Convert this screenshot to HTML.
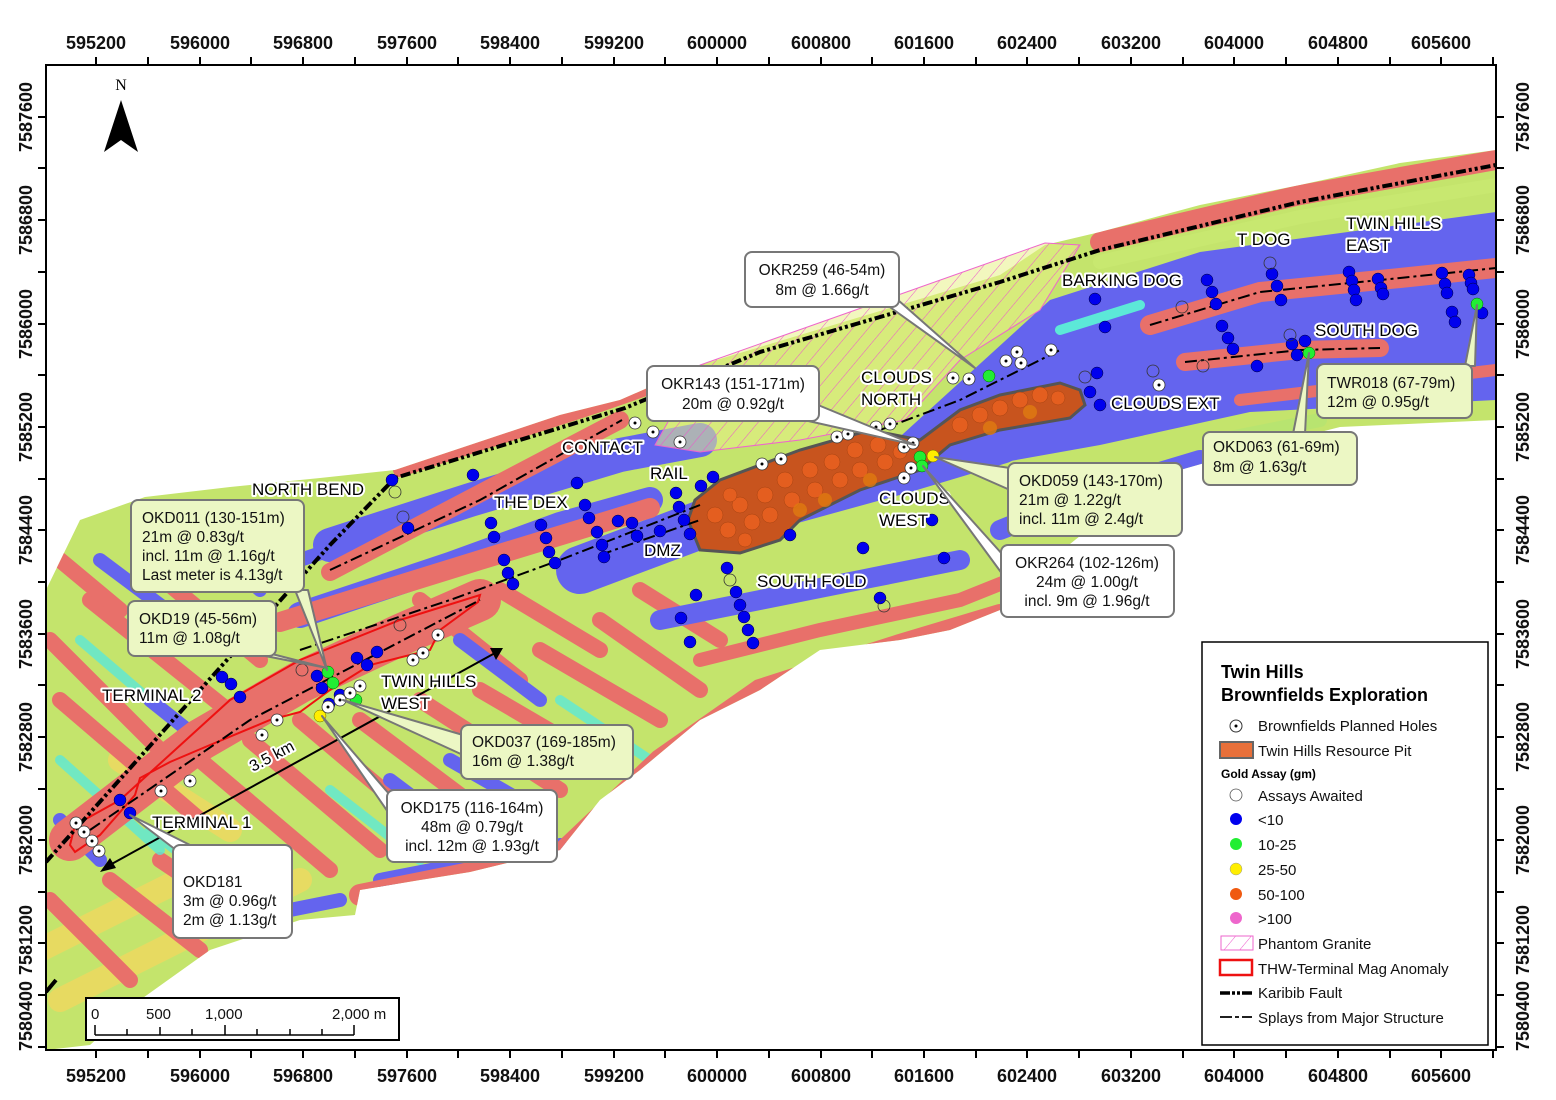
<!DOCTYPE html>
<html><head><meta charset="utf-8"><style>
html,body{margin:0;padding:0;background:#fff;}
svg{display:block;font-family:"Liberation Sans",Arial,sans-serif;}
.ax{font-weight:bold;font-size:18px;fill:#111;}
.lb{font-size:17px;fill:#000;stroke:#fff;stroke-width:4px;paint-order:stroke;stroke-linejoin:round;}
.ct{font-size:15.5px;fill:#111;}
.lg{font-size:15px;fill:#111;}
</style></head><body>
<svg width="1556" height="1100" viewBox="0 0 1556 1100" xmlns="http://www.w3.org/2000/svg">
<defs>
<clipPath id="dc"><polygon points="46,590 80,520 145,497 230,487 320,478 395,470 470,445 560,415 620,400 700,365 800,335 900,305 1000,275 1045,245 1100,232 1200,205 1300,185 1400,163 1496,150 1496,420 1340,427 1250,450 1180,470 1100,520 1050,560 1000,610 950,630 900,640 820,650 760,690 700,720 640,770 600,800 560,850 470,872 420,880 360,890 355,915 300,920 210,950 140,1000 90,1045 46,1050"/></clipPath>
<pattern id="hat" width="12" height="12" patternUnits="userSpaceOnUse" patternTransform="rotate(40)"><rect width="12" height="12" fill="none"/><line x1="0" y1="0" x2="0" y2="12" stroke="#ee55cc" stroke-width="1"/></pattern>
<clipPath id="mc"><rect x="46" y="65" width="1450" height="985"/></clipPath>
</defs>

<g clip-path="url(#dc)">
<rect x="40" y="100" width="1460" height="960" fill="#c4e46c"/>
<g fill="none" stroke-linecap="round">
<g stroke="#f0d860" stroke-width="24" opacity=".8">
<path d="M40,950 L200,870"/><path d="M60,1000 L300,880"/><path d="M120,760 L230,830"/>
</g>
<g stroke="#e8706a" stroke-width="16">
<path d="M50,640 L170,760"/><path d="M60,700 L200,820"/><path d="M90,600 L240,720"/><path d="M140,560 L260,660"/><path d="M200,760 L330,870"/><path d="M250,740 L380,850"/><path d="M300,720 L430,830"/><path d="M360,720 L480,810"/><path d="M420,700 L560,790"/><path d="M480,690 L600,760"/><path d="M540,650 L660,720"/><path d="M600,620 L700,690"/><path d="M50,900 L130,980"/><path d="M110,880 L200,950"/>
<path d="M160,860 L250,920"/><path d="M60,560 L120,610"/><path d="M420,600 L520,680"/><path d="M500,590 L600,650"/><path d="M640,590 L720,640"/>
</g>
<g stroke="#5ce8d8" stroke-width="10" opacity=".8">
<path d="M60,760 L160,850"/><path d="M150,830 L240,900"/><path d="M330,790 L420,860"/><path d="M560,700 L650,760"/><path d="M80,640 L150,700"/>
</g>
<g stroke="#6464ee" stroke-width="14">
<path d="M100,560 L180,620"/><path d="M180,520 L260,590"/><path d="M60,820 L100,860"/><path d="M390,780 L470,840"/><path d="M450,760 L520,800"/><path d="M380,880 L560,845"/><path d="M240,920 L340,900"/>
<path d="M150,700 L200,740"/><path d="M460,640 L540,700"/><path d="M300,560 L360,540"/>
</g>
<path d="M330,545 L470,500 L620,455 L700,440" stroke="#6464ee" stroke-width="34"/>
<path d="M300,615 L450,565 L560,525 L650,500" stroke="#6464ee" stroke-width="26"/>
<path d="M580,570 L700,525 L900,470 L1000,440" stroke="#6464ee" stroke-width="48"/>
<path d="M330,572 L620,420" stroke="#e8706a" stroke-width="18"/>
<path d="M280,622 L480,560 L650,508" stroke="#e8706a" stroke-width="20"/>
<path d="M400,470 L600,405 L700,370" stroke="#e8706a" stroke-width="14"/>
<path d="M70,840 L200,740 L300,682 L400,635 L480,600" stroke="#e8706a" stroke-width="42"/>
<path d="M360,895 L560,855 L660,760 L760,690 L900,645 L1000,615" stroke="#e8706a" stroke-width="22"/>
<path d="M660,620 L760,600 L860,580 L960,560" stroke="#6464ee" stroke-width="20"/>
<path d="M700,660 L820,630 L960,600 L1060,560" stroke="#e8706a" stroke-width="14"/>
<path d="M1000,530 L1100,490 L1200,460" stroke="#6464ee" stroke-width="20"/>
<polygon points="1050,300 1200,252 1496,212 1496,400 1250,412 1100,445 960,470 880,455" fill="#6464ee" stroke="none"/>
<path d="M1100,242 L1300,195 L1496,160" stroke="#e8706a" stroke-width="20"/>
<path d="M1100,262 L1300,217 L1496,185" stroke="#c8e870" stroke-width="14"/>
<path d="M1150,325 L1260,292 L1400,278 L1496,268" stroke="#e8706a" stroke-width="20"/>
<path d="M1185,362 L1300,350 L1380,348" stroke="#e8706a" stroke-width="18"/>
<path d="M1240,400 L1496,370" stroke="#e8706a" stroke-width="12"/>
<path d="M1220,440 L1320,420" stroke="#b8e470" stroke-width="14"/>
<path d="M1060,330 L1140,305" stroke="#5ce8d8" stroke-width="10"/>
</g>
</g>

<polygon points="655,445 700,365 1045,243 1080,245 1040,310 960,360 905,420 800,440 700,452" fill="#e8f088" opacity=".55"/>
<polygon points="655,445 700,365 1045,243 1080,245 1040,310 960,360 905,420 800,440 700,452" fill="url(#hat)" stroke="#ee66cc" stroke-width="1"/>

<polygon points="695,500 720,480 800,450 870,430 920,440 960,410 1000,395 1060,383 1080,390 1085,405 1070,418 1000,430 950,445 920,470 860,490 800,520 780,540 740,553 700,550 688,520" fill="#c8541e" stroke="#555" stroke-width="3"/>
<g fill="#e86020" stroke="#a04010" stroke-width=".5" opacity=".9">
<circle cx="715" cy="515" r="8"/><circle cx="728" cy="530" r="8"/><circle cx="740" cy="505" r="8"/><circle cx="752" cy="522" r="8"/><circle cx="765" cy="495" r="8"/><circle cx="770" cy="515" r="8"/><circle cx="785" cy="480" r="8"/><circle cx="792" cy="500" r="8"/><circle cx="810" cy="470" r="8"/><circle cx="815" cy="490" r="8"/><circle cx="832" cy="462" r="8"/><circle cx="840" cy="480" r="8"/><circle cx="855" cy="450" r="8"/><circle cx="860" cy="470" r="8"/><circle cx="878" cy="445" r="8"/><circle cx="885" cy="462" r="8"/><circle cx="900" cy="452" r="7"/><circle cx="960" cy="425" r="8"/><circle cx="980" cy="415" r="8"/><circle cx="1000" cy="408" r="8"/><circle cx="1020" cy="400" r="8"/><circle cx="1040" cy="395" r="8"/><circle cx="1058" cy="398" r="7"/><circle cx="745" cy="540" r="7"/><circle cx="730" cy="495" r="7"/>
</g>
<g fill="#e07a10" opacity=".8"><circle cx="800" cy="510" r="7"/><circle cx="825" cy="500" r="7"/><circle cx="990" cy="428" r="7"/><circle cx="1030" cy="412" r="7"/><circle cx="870" cy="480" r="7"/></g>

<polygon points="70,845 75,825 120,800 230,700 300,660 400,620 480,595 478,602 440,630 430,650 370,665 330,690 300,712 270,720 210,745 170,762 140,778 135,795 100,835 75,852" fill="none" stroke="#ee1111" stroke-width="2"/>

<g clip-path="url(#mc)" fill="none" stroke="#000">
<polyline points="46,862 200,690 330,545 395,478 625,408 760,352 1000,282 1100,250 1300,202 1496,165" stroke-width="4" stroke-dasharray="10,3,3,3,3,3"/>
<polyline points="46,992 56,980" stroke-width="4"/>
<g stroke-width="2" stroke-dasharray="12,4,3,4">
<polyline points="330,570 480,500 622,420"/>
<polyline points="300,650 450,600 560,560 700,505"/>
<polyline points="90,830 250,720 480,600"/>
<polyline points="1150,325 1260,292 1400,278 1496,268"/>
<polyline points="1185,362 1300,350 1380,348"/>
<polyline points="880,430 960,400 1060,350"/>
<polyline points="600,555 700,520"/>
</g>
</g>
<line x1="108" y1="866" x2="495" y2="653" stroke="#000" stroke-width="2"/>
<polygon points="100,872 110,858 116,868" fill="#000"/>
<polygon points="503,648 490,648 496,660" fill="#000"/>
<text class="lb" x="253" y="772" transform="rotate(-28 253 772)" style="font-size:16px">3.5 km</text>

<g fill="#0000ee" stroke="#000033" stroke-width=".5">
<circle cx="1095" cy="299" r="6"/><circle cx="1105" cy="327" r="6"/><circle cx="1207" cy="280" r="6"/><circle cx="1212" cy="292" r="6"/><circle cx="1216" cy="304" r="6"/><circle cx="1222" cy="326" r="6"/><circle cx="1228" cy="338" r="6"/><circle cx="1233" cy="349" r="6"/><circle cx="1257" cy="366" r="6"/><circle cx="1272" cy="274" r="6"/><circle cx="1277" cy="286" r="6"/><circle cx="1281" cy="300" r="6"/><circle cx="1292" cy="344" r="6"/><circle cx="1297" cy="355" r="6"/><circle cx="1305" cy="341" r="6"/><circle cx="1349" cy="272" r="6"/><circle cx="1352" cy="281" r="6"/><circle cx="1354" cy="290" r="6"/><circle cx="1356" cy="300" r="6"/><circle cx="1378" cy="279" r="6"/><circle cx="1381" cy="288" r="6"/><circle cx="1383" cy="294" r="6"/><circle cx="1442" cy="273" r="6"/><circle cx="1445" cy="284" r="6"/><circle cx="1447" cy="293" r="6"/><circle cx="1452" cy="312" r="6"/><circle cx="1455" cy="322" r="6"/><circle cx="1469" cy="275" r="6"/><circle cx="1471" cy="283" r="6"/><circle cx="1473" cy="289" r="6"/><circle cx="1482" cy="313" r="6"/><circle cx="1097" cy="373" r="6"/><circle cx="1100" cy="405" r="6"/><circle cx="1090" cy="392" r="6"/>
<circle cx="392" cy="480" r="6"/><circle cx="408" cy="528" r="6"/><circle cx="473" cy="475" r="6"/><circle cx="491" cy="523" r="6"/><circle cx="494" cy="537" r="6"/><circle cx="504" cy="560" r="6"/><circle cx="508" cy="573" r="6"/><circle cx="513" cy="584" r="6"/><circle cx="541" cy="525" r="6"/><circle cx="546" cy="538" r="6"/><circle cx="549" cy="552" r="6"/><circle cx="555" cy="563" r="6"/><circle cx="577" cy="483" r="6"/><circle cx="585" cy="505" r="6"/><circle cx="589" cy="518" r="6"/><circle cx="597" cy="532" r="6"/><circle cx="602" cy="545" r="6"/><circle cx="604" cy="557" r="6"/><circle cx="618" cy="521" r="6"/><circle cx="632" cy="523" r="6"/><circle cx="637" cy="536" r="6"/><circle cx="660" cy="531" r="6"/><circle cx="676" cy="493" r="6"/><circle cx="679" cy="507" r="6"/><circle cx="684" cy="520" r="6"/><circle cx="690" cy="534" r="6"/><circle cx="701" cy="486" r="6"/><circle cx="713" cy="477" r="6"/><circle cx="696" cy="595" r="6"/><circle cx="681" cy="618" r="6"/><circle cx="690" cy="642" r="6"/><circle cx="727" cy="568" r="6"/><circle cx="736" cy="592" r="6"/><circle cx="740" cy="605" r="6"/><circle cx="744" cy="617" r="6"/><circle cx="748" cy="630" r="6"/><circle cx="753" cy="643" r="6"/><circle cx="790" cy="535" r="6"/><circle cx="863" cy="548" r="6"/><circle cx="880" cy="598" r="6"/><circle cx="944" cy="558" r="6"/><circle cx="932" cy="520" r="6"/>
<circle cx="222" cy="677" r="6"/><circle cx="231" cy="684" r="6"/><circle cx="240" cy="697" r="6"/><circle cx="317" cy="676" r="6"/><circle cx="322" cy="688" r="6"/><circle cx="329" cy="704" r="6"/><circle cx="340" cy="695" r="6"/><circle cx="357" cy="658" r="6"/><circle cx="367" cy="665" r="6"/><circle cx="377" cy="652" r="6"/><circle cx="130" cy="813" r="6"/><circle cx="120" cy="800" r="6"/>
</g>
<g fill="#22ee33" stroke="#006600" stroke-width=".5">
<circle cx="989" cy="376" r="6"/><circle cx="920" cy="457" r="6"/><circle cx="922" cy="466" r="6"/><circle cx="328" cy="672" r="6"/><circle cx="333" cy="683" r="6"/><circle cx="356" cy="700" r="6"/><circle cx="1309" cy="353" r="6"/><circle cx="1477" cy="304" r="6"/>
</g>
<g fill="#ffee00" stroke="#666600" stroke-width=".5"><circle cx="933" cy="456" r="6"/><circle cx="320" cy="716" r="6"/></g>
<g fill="none" stroke="#333" stroke-width=".8">
<circle cx="1270" cy="263" r="6"/><circle cx="1182" cy="307" r="6"/><circle cx="1290" cy="335" r="6"/><circle cx="1203" cy="366" r="6"/><circle cx="1085" cy="377" r="6"/><circle cx="395" cy="492" r="6"/><circle cx="403" cy="517" r="6"/><circle cx="730" cy="580" r="6"/><circle cx="884" cy="606" r="6"/><circle cx="302" cy="670" r="6"/><circle cx="400" cy="625" r="6"/><circle cx="1153" cy="371" r="6"/>
</g>
<g fill="#fff" stroke="#333" stroke-width=".8">
<circle cx="635" cy="423" r="6"/><circle cx="653" cy="432" r="6"/><circle cx="680" cy="442" r="6"/><circle cx="762" cy="464" r="6"/><circle cx="781" cy="459" r="6"/><circle cx="837" cy="437" r="6"/><circle cx="848" cy="434" r="6"/><circle cx="876" cy="427" r="6"/><circle cx="890" cy="424" r="6"/><circle cx="904" cy="447" r="6"/><circle cx="913" cy="443" r="6"/><circle cx="911" cy="468" r="6"/><circle cx="904" cy="478" r="6"/><circle cx="953" cy="378" r="6"/><circle cx="969" cy="379" r="6"/><circle cx="1006" cy="361" r="6"/><circle cx="1017" cy="352" r="6"/><circle cx="1021" cy="363" r="6"/><circle cx="1051" cy="350" r="6"/><circle cx="1159" cy="385" r="6"/><circle cx="413" cy="660" r="6"/><circle cx="423" cy="653" r="6"/><circle cx="438" cy="635" r="6"/><circle cx="360" cy="686" r="6"/><circle cx="350" cy="693" r="6"/><circle cx="340" cy="700" r="6"/><circle cx="328" cy="707" r="6"/><circle cx="277" cy="720" r="6"/><circle cx="262" cy="735" r="6"/><circle cx="190" cy="781" r="6"/><circle cx="161" cy="791" r="6"/><circle cx="76" cy="823" r="6"/><circle cx="84" cy="832" r="6"/><circle cx="92" cy="841" r="6"/><circle cx="99" cy="851" r="6"/>
</g>
<g fill="#000">
<circle cx="635" cy="423" r="1.5"/><circle cx="653" cy="432" r="1.5"/><circle cx="680" cy="442" r="1.5"/><circle cx="762" cy="464" r="1.5"/><circle cx="781" cy="459" r="1.5"/><circle cx="837" cy="437" r="1.5"/><circle cx="848" cy="434" r="1.5"/><circle cx="876" cy="427" r="1.5"/><circle cx="890" cy="424" r="1.5"/><circle cx="904" cy="447" r="1.5"/><circle cx="913" cy="443" r="1.5"/><circle cx="911" cy="468" r="1.5"/><circle cx="904" cy="478" r="1.5"/><circle cx="953" cy="378" r="1.5"/><circle cx="969" cy="379" r="1.5"/><circle cx="1006" cy="361" r="1.5"/><circle cx="1017" cy="352" r="1.5"/><circle cx="1021" cy="363" r="1.5"/><circle cx="1051" cy="350" r="1.5"/><circle cx="1159" cy="385" r="1.5"/><circle cx="413" cy="660" r="1.5"/><circle cx="423" cy="653" r="1.5"/><circle cx="438" cy="635" r="1.5"/><circle cx="360" cy="686" r="1.5"/><circle cx="350" cy="693" r="1.5"/><circle cx="340" cy="700" r="1.5"/><circle cx="328" cy="707" r="1.5"/><circle cx="277" cy="720" r="1.5"/><circle cx="262" cy="735" r="1.5"/><circle cx="190" cy="781" r="1.5"/><circle cx="161" cy="791" r="1.5"/><circle cx="76" cy="823" r="1.5"/><circle cx="84" cy="832" r="1.5"/><circle cx="92" cy="841" r="1.5"/><circle cx="99" cy="851" r="1.5"/>
</g>

<g class="lb">
<text x="252" y="495">NORTH BEND</text>
<text x="494" y="508">THE DEX</text>
<text x="562" y="453">CONTACT</text>
<text x="650" y="479">RAIL</text>
<text x="644" y="556">DMZ</text>
<text x="757" y="587">SOUTH FOLD</text>
<text x="861" y="383">CLOUDS</text><text x="861" y="405">NORTH</text>
<text x="879" y="504">CLOUDS</text><text x="879" y="526">WEST</text>
<text x="1111" y="409">CLOUDS EXT</text>
<text x="1062" y="286">BARKING DOG</text>
<text x="1237" y="245">T DOG</text>
<text x="1346" y="229">TWIN HILLS</text><text x="1346" y="251">EAST</text>
<text x="1315" y="336">SOUTH DOG</text>
<text x="102" y="701">TERMINAL 2</text>
<text x="152" y="828">TERMINAL 1</text>
<text x="381" y="687">TWIN HILLS</text><text x="381" y="709">WEST</text>
</g>

<g stroke="#777" stroke-width="2" stroke-linejoin="round">
<g fill="#fff">
<polygon points="880,300 898,300 975,368"/><rect x="745" y="252" width="154" height="55" rx="7"/>
<polygon points="795,418 818,405 915,445"/><rect x="647" y="366" width="172" height="55" rx="7"/>
<polygon points="390,795 390,815 322,716"/><rect x="387" y="790" width="170" height="72" rx="7"/>
<polygon points="176,850 196,848 130,815"/><rect x="173" y="845" width="119" height="93" rx="7"/>
<polygon points="1003,555 1003,575 923,466"/><rect x="1001" y="545" width="173" height="72" rx="7"/>
</g>
<g fill="#ecf7c4">
<polygon points="295,590 308,590 327,670"/><rect x="131" y="500" width="173" height="92" rx="7"/>
<polygon points="255,654 272,654 327,668"/><rect x="128" y="601" width="148" height="55" rx="7"/>
<polygon points="463,735 463,755 343,700"/><rect x="461" y="725" width="172" height="54" rx="7"/>
<polygon points="1010,468 1010,490 935,457"/><rect x="1008" y="463" width="174" height="73" rx="7"/>
<polygon points="1293,434 1305,434 1309,353"/><rect x="1203" y="432" width="154" height="53" rx="7"/>
<polygon points="1465,366 1475,366 1477,305"/><rect x="1317" y="364" width="155" height="54" rx="7"/>
</g>
</g>
<g class="ct">
<text x="822" y="275" text-anchor="middle">OKR259 (46-54m)</text><text x="822" y="295" text-anchor="middle">8m @ 1.66g/t</text>
<text x="733" y="389" text-anchor="middle">OKR143 (151-171m)</text><text x="733" y="409" text-anchor="middle">20m @ 0.92g/t</text>
<text x="142" y="523">OKD011 (130-151m)</text><text x="142" y="542">21m @ 0.83g/t</text><text x="142" y="561">incl. 11m @ 1.16g/t</text><text x="142" y="580">Last meter is 4.13g/t</text>
<text x="139" y="624">OKD19 (45-56m)</text><text x="139" y="643">11m @ 1.08g/t</text>
<text x="472" y="747">OKD037 (169-185m)</text><text x="472" y="766">16m @ 1.38g/t</text>
<text x="472" y="813" text-anchor="middle">OKD175 (116-164m)</text><text x="472" y="832" text-anchor="middle">48m @ 0.79g/t</text><text x="472" y="851" text-anchor="middle">incl. 12m @ 1.93g/t</text>
<text x="183" y="887">OKD181</text><text x="183" y="906">3m @ 0.96g/t</text><text x="183" y="925">2m @ 1.13g/t</text>
<text x="1019" y="486">OKD059 (143-170m)</text><text x="1019" y="505">21m @ 1.22g/t</text><text x="1019" y="524">incl. 11m @ 2.4g/t</text>
<text x="1087" y="568" text-anchor="middle">OKR264 (102-126m)</text><text x="1087" y="587" text-anchor="middle">24m @ 1.00g/t</text><text x="1087" y="606" text-anchor="middle">incl. 9m @ 1.96g/t</text>
<text x="1213" y="452">OKD063 (61-69m)</text><text x="1213" y="472">8m @ 1.63g/t</text>
<text x="1327" y="388">TWR018 (67-79m)</text><text x="1327" y="407">12m @ 0.95g/t</text>
</g>

<text x="121" y="90" text-anchor="middle" style="font-family:'Liberation Serif',serif;font-size:16px">N</text>
<polygon points="121,100 104,152 121,140 138,152" fill="#000"/>

<rect x="86" y="998" width="313" height="42" fill="#fff" stroke="#000" stroke-width="2"/>
<g style="font-size:15px" fill="#111"><text x="91" y="1019">0</text><text x="146" y="1019">500</text><text x="205" y="1019">1,000</text><text x="332" y="1019">2,000 m</text></g>
<g stroke="#000" stroke-width="1.5"><line x1="95" y1="1035" x2="354" y2="1035"/>
<line x1="95" y1="1025" x2="95" y2="1035"/><line x1="127" y1="1029" x2="127" y2="1035"/><line x1="160" y1="1027" x2="160" y2="1035"/><line x1="192" y1="1029" x2="192" y2="1035"/><line x1="225" y1="1025" x2="225" y2="1035"/><line x1="257" y1="1029" x2="257" y2="1035"/><line x1="290" y1="1029" x2="290" y2="1035"/><line x1="322" y1="1029" x2="322" y2="1035"/><line x1="354" y1="1025" x2="354" y2="1035"/></g>

<rect x="1202" y="642" width="286" height="403" fill="#fff" stroke="#000" stroke-width="1.5"/>
<text x="1221" y="678" style="font-weight:bold;font-size:18px">Twin Hills</text>
<text x="1221" y="701" style="font-weight:bold;font-size:18px">Brownfields Exploration</text>
<circle cx="1236" cy="726" r="6" fill="#fff" stroke="#333"/><circle cx="1236" cy="726" r="1.5" fill="#000"/>
<rect x="1220" y="742" width="33" height="16" fill="#e8703a" stroke="#666" stroke-width="2"/>
<text x="1221" y="778" style="font-weight:bold;font-size:12px">Gold Assay (gm)</text>
<circle cx="1236" cy="795" r="6" fill="#fff" stroke="#555" stroke-width=".8"/>
<circle cx="1236" cy="819" r="6" fill="#0000ee"/>
<circle cx="1236" cy="844" r="6" fill="#22ee33"/>
<circle cx="1236" cy="869" r="6" fill="#ffee00" stroke="#999" stroke-width=".5"/>
<circle cx="1236" cy="894" r="6" fill="#f05a10"/>
<circle cx="1236" cy="918" r="6" fill="#ee66cc"/>
<rect x="1221" y="936" width="32" height="14" fill="url(#hat)" stroke="#ee66cc"/>
<rect x="1220" y="960" width="32" height="15" fill="#fff" stroke="#ee1111" stroke-width="2.5"/>
<line x1="1220" y1="993" x2="1252" y2="993" stroke="#000" stroke-width="3.5" stroke-dasharray="10,2,3,2,3,2"/>
<line x1="1220" y1="1017" x2="1252" y2="1017" stroke="#000" stroke-width="1.8" stroke-dasharray="12,3,4,3"/>
<g class="lg">
<text x="1258" y="731">Brownfields Planned Holes</text>
<text x="1258" y="756">Twin Hills Resource Pit</text>
<text x="1258" y="801">Assays Awaited</text>
<text x="1258" y="825">&lt;10</text>
<text x="1258" y="850">10-25</text>
<text x="1258" y="875">25-50</text>
<text x="1258" y="900">50-100</text>
<text x="1258" y="924">&gt;100</text>
<text x="1258" y="949">Phantom Granite</text>
<text x="1258" y="974">THW-Terminal Mag Anomaly</text>
<text x="1258" y="998">Karibib Fault</text>
<text x="1258" y="1023">Splays from Major Structure</text>
</g>

<rect x="46" y="65" width="1450" height="985" fill="none" stroke="#000" stroke-width="2"/>
<g stroke="#000" stroke-width="2">
<path d="M96,57V65M148,57V65M200,57V65M251,57V65M303,57V65M355,57V65M407,57V65M458,57V65M510,57V65M562,57V65M614,57V65M665,57V65M717,57V65M769,57V65M821,57V65M872,57V65M924,57V65M976,57V65M1027,57V65M1079,57V65M1131,57V65M1183,57V65M1234,57V65M1286,57V65M1338,57V65M1390,57V65M1441,57V65M1493,57V65"/>
<path d="M96,1050V1058M148,1050V1058M200,1050V1058M251,1050V1058M303,1050V1058M355,1050V1058M407,1050V1058M458,1050V1058M510,1050V1058M562,1050V1058M614,1050V1058M665,1050V1058M717,1050V1058M769,1050V1058M821,1050V1058M872,1050V1058M924,1050V1058M976,1050V1058M1027,1050V1058M1079,1050V1058M1131,1050V1058M1183,1050V1058M1234,1050V1058M1286,1050V1058M1338,1050V1058M1390,1050V1058M1441,1050V1058M1493,1050V1058"/>
<path d="M38,117H46M38,168H46M38,220H46M38,272H46M38,324H46M38,375H46M38,427H46M38,479H46M38,530H46M38,582H46M38,634H46M38,685H46M38,737H46M38,789H46M38,840H46M38,892H46M38,943H46M38,995H46M38,1047H46"/>
<path d="M1496,117H1504M1496,168H1504M1496,220H1504M1496,272H1504M1496,324H1504M1496,375H1504M1496,427H1504M1496,479H1504M1496,530H1504M1496,582H1504M1496,634H1504M1496,685H1504M1496,737H1504M1496,789H1504M1496,840H1504M1496,892H1504M1496,943H1504M1496,995H1504M1496,1047H1504"/>
</g>
<g class="ax" text-anchor="middle">
<text x="96" y="49">595200</text><text x="200" y="49">596000</text><text x="303" y="49">596800</text><text x="407" y="49">597600</text><text x="510" y="49">598400</text><text x="614" y="49">599200</text><text x="717" y="49">600000</text><text x="821" y="49">600800</text><text x="924" y="49">601600</text><text x="1027" y="49">602400</text><text x="1131" y="49">603200</text><text x="1234" y="49">604000</text><text x="1338" y="49">604800</text><text x="1441" y="49">605600</text>
<text x="96" y="1082">595200</text><text x="200" y="1082">596000</text><text x="303" y="1082">596800</text><text x="407" y="1082">597600</text><text x="510" y="1082">598400</text><text x="614" y="1082">599200</text><text x="717" y="1082">600000</text><text x="821" y="1082">600800</text><text x="924" y="1082">601600</text><text x="1027" y="1082">602400</text><text x="1131" y="1082">603200</text><text x="1234" y="1082">604000</text><text x="1338" y="1082">604800</text><text x="1441" y="1082">605600</text>
<text transform="translate(32,117) rotate(-90)">7587600</text><text transform="translate(32,220) rotate(-90)">7586800</text><text transform="translate(32,324) rotate(-90)">7586000</text><text transform="translate(32,427) rotate(-90)">7585200</text><text transform="translate(32,530) rotate(-90)">7584400</text><text transform="translate(32,634) rotate(-90)">7583600</text><text transform="translate(32,737) rotate(-90)">7582800</text><text transform="translate(32,840) rotate(-90)">7582000</text><text transform="translate(32,940) rotate(-90)">7581200</text><text transform="translate(32,1016) rotate(-90)">7580400</text>
<text transform="translate(1529,117) rotate(-90)">7587600</text><text transform="translate(1529,220) rotate(-90)">7586800</text><text transform="translate(1529,324) rotate(-90)">7586000</text><text transform="translate(1529,427) rotate(-90)">7585200</text><text transform="translate(1529,530) rotate(-90)">7584400</text><text transform="translate(1529,634) rotate(-90)">7583600</text><text transform="translate(1529,737) rotate(-90)">7582800</text><text transform="translate(1529,840) rotate(-90)">7582000</text><text transform="translate(1529,940) rotate(-90)">7581200</text><text transform="translate(1529,1016) rotate(-90)">7580400</text>
</g>
</svg>
</body></html>
